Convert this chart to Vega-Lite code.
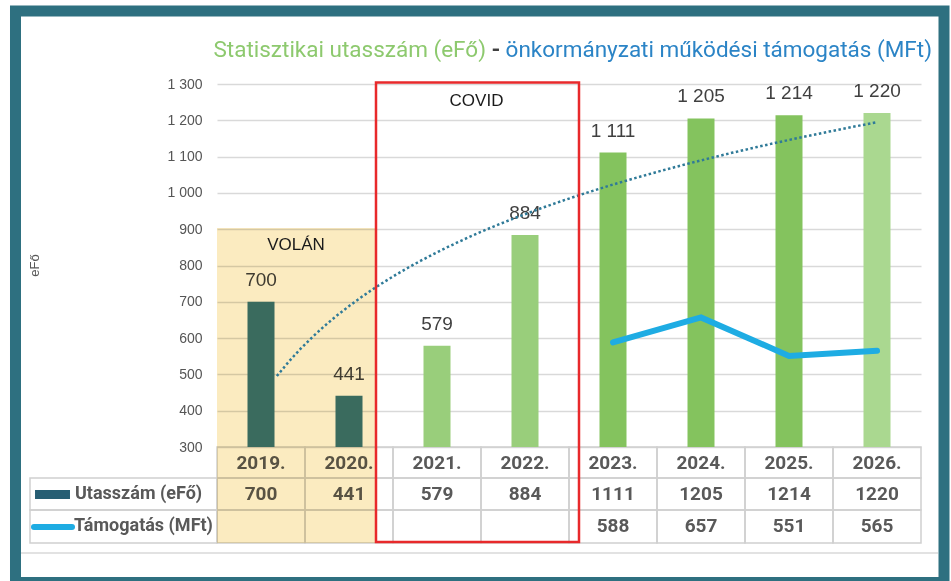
{
  "$schema": "https://vega.github.io/schema/vega-lite/v6.json",
  "width": 704,
  "height": 363,
  "autosize": {"type": "none"},
  "padding": {"left": 217, "top": 84, "right": 30, "bottom": 134},
  "background": "white",
  "config": {
    "view": {"stroke": null},
    "scale": {"continuousPadding": 0},
    "locale": {"number": {"decimal": ",", "thousands": " ", "grouping": [3], "currency": ["", ""]}},
    "font": "Liberation Sans",
    "axisY": {"grid": true, "gridColor": "#D9D9D9", "gridWidth": 1.5, "domain": false, "ticks": false, "tickSize": 0,
      "labelPadding": 15, "labelFont": "Liberation Sans", "labelFontSize": 14, "labelColor": "#555555",
      "titleFont": "Liberation Sans", "titleFontSize": 13, "titleFontWeight": "normal", "titleColor": "#595959",
      "titleX": -183, "titleY": 181, "titleAngle": -90, "titleAlign": "center", "titleBaseline": "middle"}
  },
  "datasets": {
    "main": [
      {"year": 2019, "label": "2019.", "utas": 700, "tam": null, "grp": "Volán"},
      {"year": 2020, "label": "2020.", "utas": 441, "tam": null, "grp": "Volán"},
      {"year": 2021, "label": "2021.", "utas": 579, "tam": null, "grp": "COVID"},
      {"year": 2022, "label": "2022.", "utas": 884, "tam": null, "grp": "COVID"},
      {"year": 2023, "label": "2023.", "utas": 1111, "tam": 588, "grp": "tény"},
      {"year": 2024, "label": "2024.", "utas": 1205, "tam": 657, "grp": "tény"},
      {"year": 2025, "label": "2025.", "utas": 1214, "tam": 551, "grp": "tény"},
      {"year": 2026, "label": "2026.", "utas": 1220, "tam": 565, "grp": "terv"}
    ]
  },
  "layer": [
    {
      "data": {"name": "main"},
      "transform": [{"window": [{"op": "row_number", "as": "n"}], "sort": [{"field": "year"}]}],
      "layer": [
        {
          "mark": {"type": "text", "font": "Liberation Sans", "fontSize": 19, "color": "#404040", "baseline": "middle", "dy": -22},
          "encoding": {
            "x": {"field": "n", "type": "quantitative", "scale": {"domain": [0.5, 8.5]}, "axis": null},
            "y": {"field": "utas", "type": "quantitative", "scale": {"domain": [300, 1300]},
              "axis": {"title": "eFő", "values": [300, 400, 500, 600, 700, 800, 900, 1000, 1100, 1200, 1300], "format": ",d"}},
            "text": {"field": "utas", "format": ",d"}
          }
        },
        {
          "mark": {"type": "bar", "size": 88, "fillOpacity": 0, "stroke": "#D0D0D0", "strokeWidth": 1.5},
          "encoding": {
            "x": {"field": "n", "type": "quantitative", "scale": {"domain": [0.5, 8.5]}, "axis": null},
            "y": {"datum": 300, "type": "quantitative", "scale": {"domain": [300, 1300]},
              "axis": {"title": "eFő", "values": [300, 400, 500, 600, 700, 800, 900, 1000, 1100, 1200, 1300], "format": ",d"}},
            "y2": {"datum": 214.6}
          }
        },
        {
          "mark": {"type": "bar", "size": 88, "fillOpacity": 0, "stroke": "#D0D0D0", "strokeWidth": 1.5},
          "encoding": {
            "x": {"field": "n", "type": "quantitative", "scale": {"domain": [0.5, 8.5]}, "axis": null},
            "y": {"datum": 214.6, "type": "quantitative", "scale": {"domain": [300, 1300]},
              "axis": {"title": "eFő", "values": [300, 400, 500, 600, 700, 800, 900, 1000, 1100, 1200, 1300], "format": ",d"}},
            "y2": {"datum": 126.4}
          }
        },
        {
          "mark": {"type": "bar", "size": 88, "fillOpacity": 0, "stroke": "#D0D0D0", "strokeWidth": 1.5},
          "encoding": {
            "x": {"field": "n", "type": "quantitative", "scale": {"domain": [0.5, 8.5]}, "axis": null},
            "y": {"datum": 126.4, "type": "quantitative", "scale": {"domain": [300, 1300]},
              "axis": {"title": "eFő", "values": [300, 400, 500, 600, 700, 800, 900, 1000, 1100, 1200, 1300], "format": ",d"}},
            "y2": {"datum": 35.5}
          }
        },
        {
          "mark": {"type": "text", "font": "Roboto", "fontWeight": "bold", "fontSize": 19, "color": "#595959", "baseline": "middle"},
          "encoding": {
            "x": {"field": "n", "type": "quantitative", "scale": {"domain": [0.5, 8.5]}, "axis": null},
            "y": {"datum": 255.9, "type": "quantitative", "scale": {"domain": [300, 1300]},
              "axis": {"title": "eFő", "values": [300, 400, 500, 600, 700, 800, 900, 1000, 1100, 1200, 1300], "format": ",d"}},
            "text": {"field": "label"}
          }
        },
        {
          "mark": {"type": "text", "font": "Roboto", "fontWeight": "bold", "fontSize": 19, "color": "#595959", "baseline": "middle"},
          "encoding": {
            "x": {"field": "n", "type": "quantitative", "scale": {"domain": [0.5, 8.5]}, "axis": null},
            "y": {"datum": 170.5, "type": "quantitative", "scale": {"domain": [300, 1300]},
              "axis": {"title": "eFő", "values": [300, 400, 500, 600, 700, 800, 900, 1000, 1100, 1200, 1300], "format": ",d"}},
            "text": {"field": "utas", "format": "d"}
          }
        },
        {
          "transform": [{"filter": "datum.tam != null"}],
          "mark": {"type": "text", "font": "Roboto", "fontWeight": "bold", "fontSize": 19, "color": "#595959", "baseline": "middle"},
          "encoding": {
            "x": {"field": "n", "type": "quantitative", "scale": {"domain": [0.5, 8.5]}, "axis": null},
            "y": {"datum": 81, "type": "quantitative", "scale": {"domain": [300, 1300]},
              "axis": {"title": "eFő", "values": [300, 400, 500, 600, 700, 800, 900, 1000, 1100, 1200, 1300], "format": ",d"}},
            "text": {"field": "tam", "format": "d"}
          }
        }
      ]
    },
    {
      "data": {"values": [{}]},
      "layer": [
        {
          "mark": {"type": "rect", "fillOpacity": 0, "stroke": "#D0D0D0", "strokeWidth": 1.5},
          "encoding": {
            "x": {"datum": -1.625, "type": "quantitative", "scale": {"domain": [0.5, 8.5]}, "axis": null},
            "x2": {"datum": 0.5},
            "y": {"datum": 214.6, "type": "quantitative", "scale": {"domain": [300, 1300]},
              "axis": {"title": "eFő", "values": [300, 400, 500, 600, 700, 800, 900, 1000, 1100, 1200, 1300], "format": ",d"}},
            "y2": {"datum": 126.4}
          }
        },
        {
          "mark": {"type": "rect", "fillOpacity": 0, "stroke": "#D0D0D0", "strokeWidth": 1.5},
          "encoding": {
            "x": {"datum": -1.625, "type": "quantitative", "scale": {"domain": [0.5, 8.5]}, "axis": null},
            "x2": {"datum": 0.5},
            "y": {"datum": 126.4, "type": "quantitative", "scale": {"domain": [300, 1300]},
              "axis": {"title": "eFő", "values": [300, 400, 500, 600, 700, 800, 900, 1000, 1100, 1200, 1300], "format": ",d"}},
            "y2": {"datum": 35.5}
          }
        },
        {
          "mark": {"type": "rect", "color": "#275E73"},
          "encoding": {
            "x": {"datum": -1.568, "type": "quantitative", "scale": {"domain": [0.5, 8.5]}, "axis": null},
            "x2": {"datum": -1.1705},
            "y": {"datum": 181.5, "type": "quantitative", "scale": {"domain": [300, 1300]},
              "axis": {"title": "eFő", "values": [300, 400, 500, 600, 700, 800, 900, 1000, 1100, 1200, 1300], "format": ",d"}},
            "y2": {"datum": 156.7}
          }
        },
        {
          "mark": {"type": "rule", "color": "#1EACE3", "strokeWidth": 6, "strokeCap": "round"},
          "encoding": {
            "x": {"datum": -1.5795, "type": "quantitative", "scale": {"domain": [0.5, 8.5]}, "axis": null},
            "x2": {"datum": -1.1477},
            "y": {"datum": 79.6, "type": "quantitative", "scale": {"domain": [300, 1300]},
              "axis": {"title": "eFő", "values": [300, 400, 500, 600, 700, 800, 900, 1000, 1100, 1200, 1300], "format": ",d"}}
          }
        },
        {
          "mark": {"type": "text", "font": "Roboto", "fontWeight": "bold", "fontSize": 18, "color": "#595959", "align": "left", "baseline": "middle"},
          "encoding": {
            "x": {"datum": -1.1136, "type": "quantitative", "scale": {"domain": [0.5, 8.5]}, "axis": null},
            "y": {"datum": 170.5, "type": "quantitative", "scale": {"domain": [300, 1300]},
              "axis": {"title": "eFő", "values": [300, 400, 500, 600, 700, 800, 900, 1000, 1100, 1200, 1300], "format": ",d"}},
            "text": {"value": "Utasszám (eFő)"}
          }
        },
        {
          "mark": {"type": "text", "font": "Roboto", "fontWeight": "bold", "fontSize": 18, "color": "#595959", "align": "left", "baseline": "middle"},
          "encoding": {
            "x": {"datum": -1.125, "type": "quantitative", "scale": {"domain": [0.5, 8.5]}, "axis": null},
            "y": {"datum": 81, "type": "quantitative", "scale": {"domain": [300, 1300]},
              "axis": {"title": "eFő", "values": [300, 400, 500, 600, 700, 800, 900, 1000, 1100, 1200, 1300], "format": ",d"}},
            "text": {"value": "Támogatás (MFt)"}
          }
        },
        {
          "mark": {"type": "rule", "color": "#D9D9D9", "strokeWidth": 1.5},
          "encoding": {
            "x": {"datum": -1.7273, "type": "quantitative", "scale": {"domain": [0.5, 8.5]}, "axis": null},
            "x2": {"datum": 8.6932},
            "y": {"datum": 8, "type": "quantitative", "scale": {"domain": [300, 1300]},
              "axis": {"title": "eFő", "values": [300, 400, 500, 600, 700, 800, 900, 1000, 1100, 1200, 1300], "format": ",d"}}
          }
        },
        {
          "mark": {"type": "rect", "color": "#FBEBC0", "blend": "multiply"},
          "encoding": {
            "x": {"datum": 0.5, "type": "quantitative", "scale": {"domain": [0.5, 8.5]}, "axis": null},
            "x2": {"datum": 2.2955},
            "y": {"datum": 903.3, "type": "quantitative", "scale": {"domain": [300, 1300]},
              "axis": {"title": "eFő", "values": [300, 400, 500, 600, 700, 800, 900, 1000, 1100, 1200, 1300], "format": ",d"}},
            "y2": {"datum": 35.5}
          }
        }
      ]
    },
    {
      "data": {"name": "main"},
      "transform": [{"window": [{"op": "row_number", "as": "n"}], "sort": [{"field": "year"}]}],
      "layer": [
        {
          "mark": {"type": "bar", "size": 27},
          "encoding": {
            "x": {"field": "n", "type": "quantitative", "scale": {"domain": [0.5, 8.5]}, "axis": null},
            "y": {"field": "utas", "type": "quantitative", "scale": {"domain": [300, 1300]},
              "axis": {"title": "eFő", "values": [300, 400, 500, 600, 700, 800, 900, 1000, 1100, 1200, 1300], "format": ",d"}},
            "y2": {"datum": 300},
            "color": {"field": "grp", "type": "nominal", "legend": null,
              "scale": {"domain": ["Volán", "COVID", "tény", "terv"], "range": ["#3A6B5E", "#99CE7B", "#84C35E", "#AAD890"]}}
          }
        },
        {
          "transform": [{"regression": "utas", "on": "n", "method": "log", "extent": [1.18, 8]}],
          "mark": {"type": "line", "color": "#2F7A98", "strokeWidth": 2.5, "strokeDash": [2.5, 2.5]},
          "encoding": {
            "x": {"field": "n", "type": "quantitative", "scale": {"domain": [0.5, 8.5]}, "axis": null},
            "y": {"field": "utas", "type": "quantitative", "scale": {"domain": [300, 1300]},
              "axis": {"title": "eFő", "values": [300, 400, 500, 600, 700, 800, 900, 1000, 1100, 1200, 1300], "format": ",d"}}
          }
        },
        {
          "transform": [{"filter": "datum.tam != null"}],
          "mark": {"type": "line", "color": "#1EACE3", "strokeWidth": 6, "strokeCap": "round"},
          "encoding": {
            "x": {"field": "n", "type": "quantitative", "scale": {"domain": [0.5, 8.5]}, "axis": null},
            "y": {"field": "tam", "type": "quantitative", "scale": {"domain": [300, 1300]},
              "axis": {"title": "eFő", "values": [300, 400, 500, 600, 700, 800, 900, 1000, 1100, 1200, 1300], "format": ",d"}}
          }
        }
      ]
    },
    {
      "data": {"values": [{}]},
      "layer": [
        {
          "mark": {"type": "text", "font": "Liberation Sans", "fontSize": 17, "color": "#1A1A1A", "baseline": "middle"},
          "encoding": {
            "x": {"datum": 1.3977, "type": "quantitative", "scale": {"domain": [0.5, 8.5]}, "axis": null},
            "y": {"datum": 855.1, "type": "quantitative", "scale": {"domain": [300, 1300]},
              "axis": {"title": "eFő", "values": [300, 400, 500, 600, 700, 800, 900, 1000, 1100, 1200, 1300], "format": ",d"}},
            "text": {"value": "VOLÁN"}
          }
        },
        {
          "mark": {"type": "text", "font": "Liberation Sans", "fontSize": 17, "color": "#1A1A1A", "baseline": "middle"},
          "encoding": {
            "x": {"datum": 3.449, "type": "quantitative", "scale": {"domain": [0.5, 8.5]}, "axis": null},
            "y": {"datum": 1251.8, "type": "quantitative", "scale": {"domain": [300, 1300]},
              "axis": {"title": "eFő", "values": [300, 400, 500, 600, 700, 800, 900, 1000, 1100, 1200, 1300], "format": ",d"}},
            "text": {"value": "COVID"}
          }
        },
        {
          "mark": {"type": "rect", "fillOpacity": 0, "stroke": "#E8292B", "strokeWidth": 2.5},
          "encoding": {
            "x": {"datum": 2.3068, "type": "quantitative", "scale": {"domain": [0.5, 8.5]}, "axis": null},
            "x2": {"datum": 4.6136},
            "y": {"datum": 1304.1, "type": "quantitative", "scale": {"domain": [300, 1300]},
              "axis": {"title": "eFő", "values": [300, 400, 500, 600, 700, 800, 900, 1000, 1100, 1200, 1300], "format": ",d"}},
            "y2": {"datum": 38.3}
          }
        },
        {
          "mark": {"type": "text", "font": "Roboto", "fontSize": 22.5, "color": "#8DC96E", "align": "right", "baseline": "alphabetic"},
          "encoding": {
            "x": {"datum": 3.5568, "type": "quantitative", "scale": {"domain": [0.5, 8.5]}, "axis": null},
            "y": {"datum": 1374.4, "type": "quantitative", "scale": {"domain": [300, 1300]},
              "axis": {"title": "eFő", "values": [300, 400, 500, 600, 700, 800, 900, 1000, 1100, 1200, 1300], "format": ",d"}},
            "text": {"value": "Statisztikai utasszám (eFő)"}
          }
        },
        {
          "mark": {"type": "text", "font": "Roboto", "fontSize": 22.5, "fontWeight": "bold", "color": "#404040", "align": "center", "baseline": "alphabetic"},
          "encoding": {
            "x": {"datum": 3.6705, "type": "quantitative", "scale": {"domain": [0.5, 8.5]}, "axis": null},
            "y": {"datum": 1374.4, "type": "quantitative", "scale": {"domain": [300, 1300]},
              "axis": {"title": "eFő", "values": [300, 400, 500, 600, 700, 800, 900, 1000, 1100, 1200, 1300], "format": ",d"}},
            "text": {"value": "-"}
          }
        },
        {
          "mark": {"type": "text", "font": "Roboto", "fontSize": 22.5, "color": "#2B84C6", "align": "right", "baseline": "alphabetic"},
          "encoding": {
            "x": {"datum": 8.625, "type": "quantitative", "scale": {"domain": [0.5, 8.5]}, "axis": null},
            "y": {"datum": 1374.4, "type": "quantitative", "scale": {"domain": [300, 1300]},
              "axis": {"title": "eFő", "values": [300, 400, 500, 600, 700, 800, 900, 1000, 1100, 1200, 1300], "format": ",d"}},
            "text": {"value": "önkormányzati működési támogatás (MFt)"}
          }
        },
        {
          "mark": {"type": "rect", "fillOpacity": 0, "stroke": "#2E7080", "strokeWidth": 11},
          "encoding": {
            "x": {"datum": -1.7898, "type": "quantitative", "scale": {"domain": [0.5, 8.5]}, "axis": null},
            "x2": {"datum": 8.7614},
            "y": {"datum": 1501.1, "type": "quantitative", "scale": {"domain": [300, 1300]},
              "axis": {"title": "eFő", "values": [300, 400, 500, 600, 700, 800, 900, 1000, 1100, 1200, 1300], "format": ",d"}},
            "y2": {"datum": -73.3}
          }
        }
      ]
    }
  ]
}
